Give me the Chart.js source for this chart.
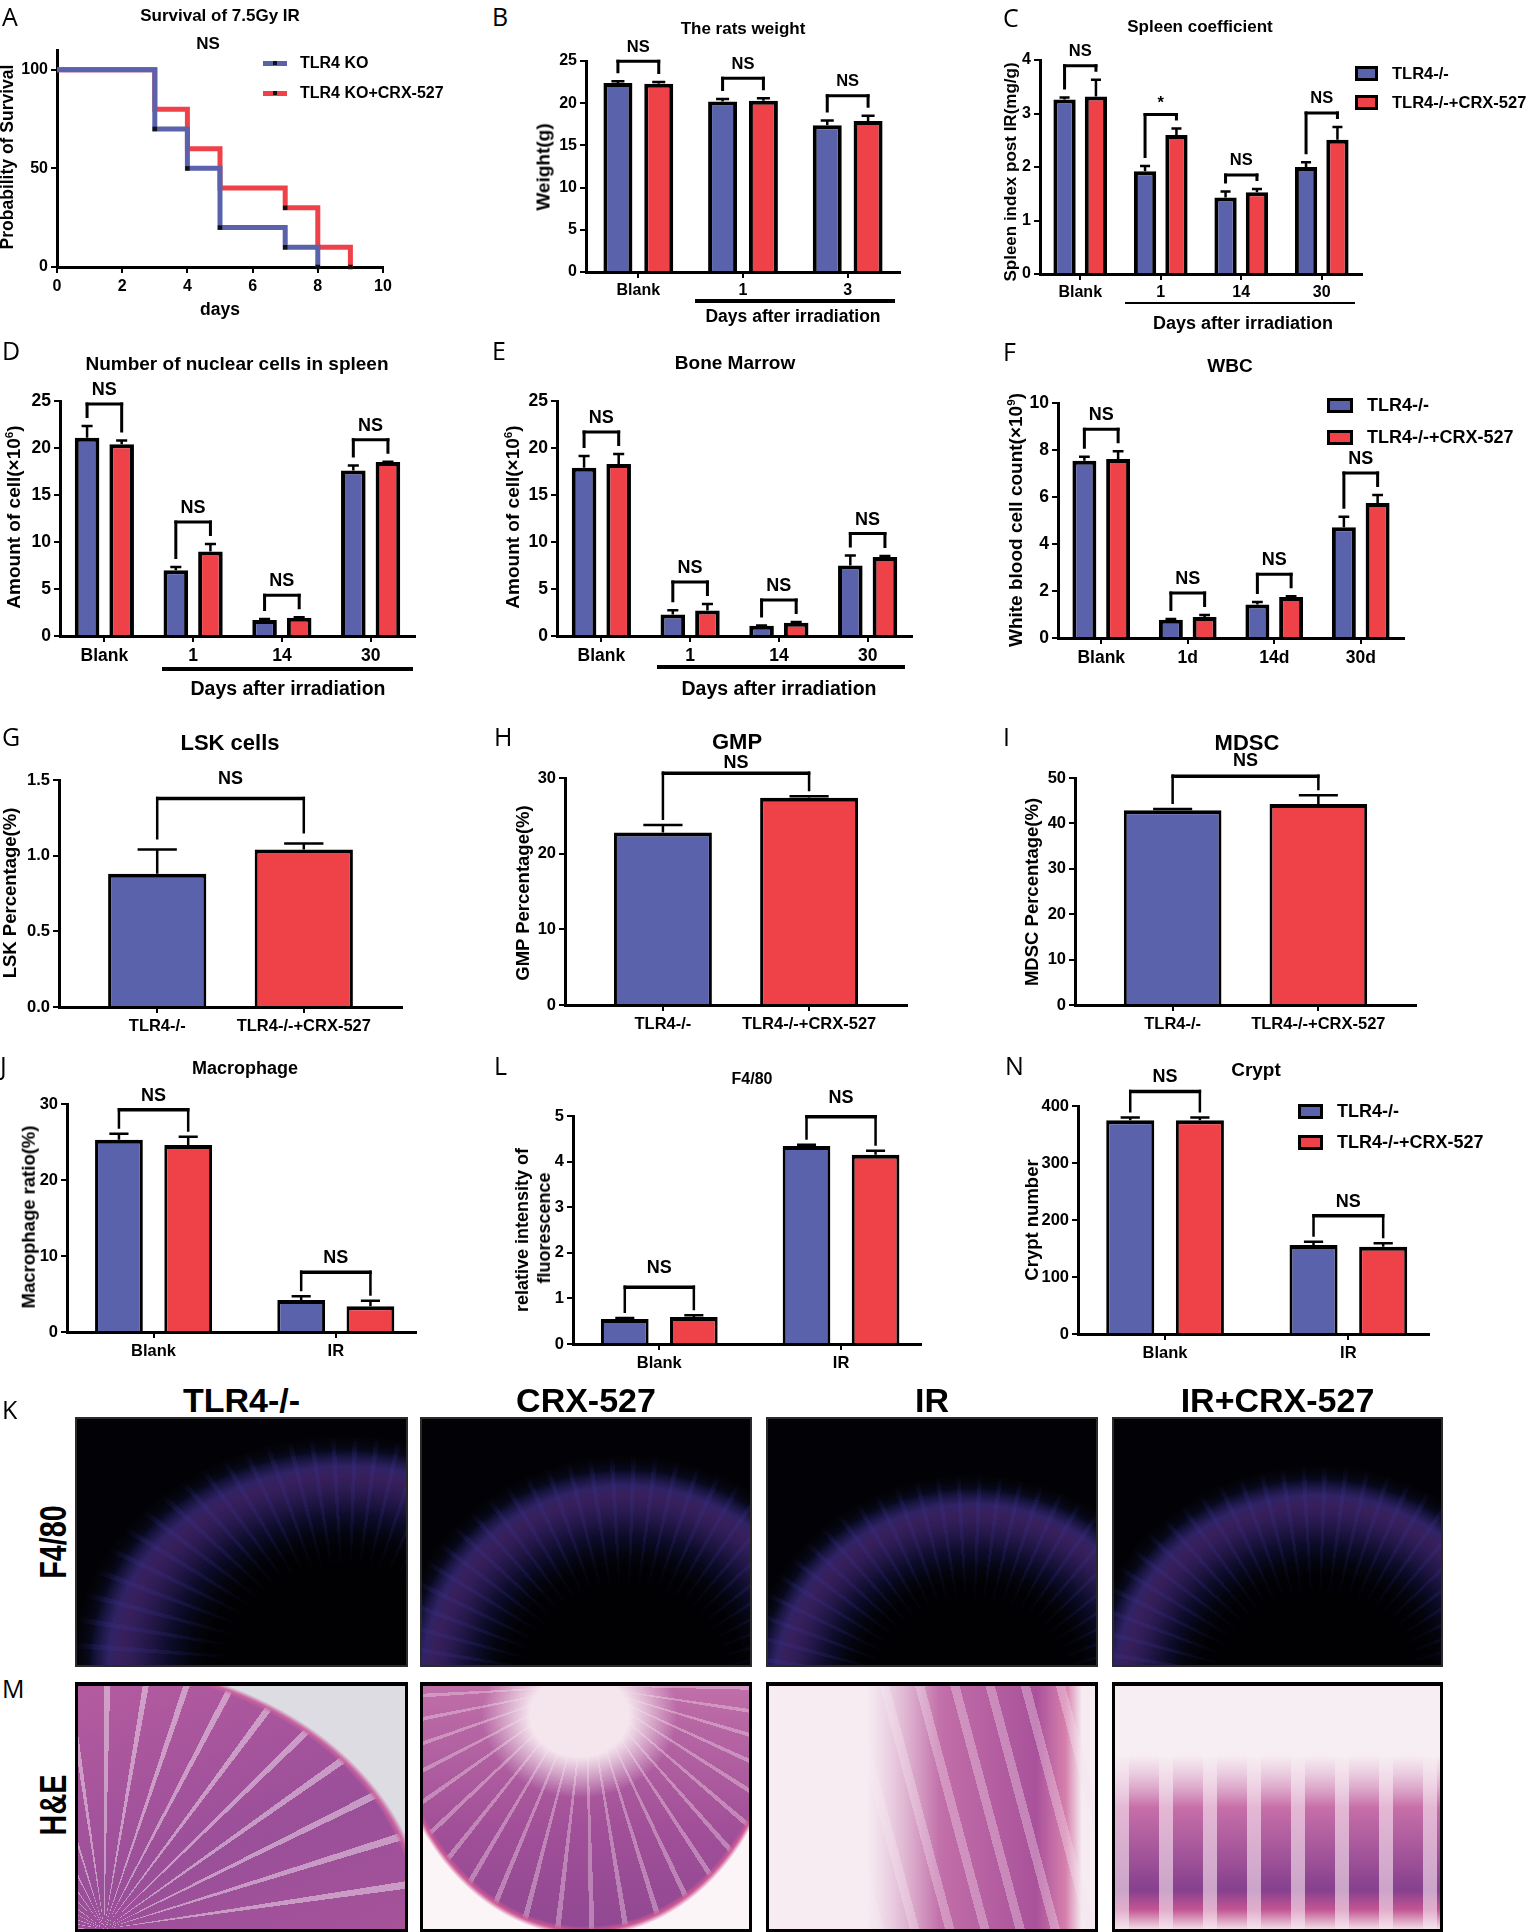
<!DOCTYPE html>
<html>
<head>
<meta charset="utf-8">
<title>TLR4 KO / CRX-527 figure</title>
<script src="https://cdn.jsdelivr.net/npm/chart.js@4.4.1/dist/chart.umd.min.js"></script>
<style>
  body { margin: 0; background: #fff; }
  #fig { position: relative; width: 1535px; height: 1932px; overflow: hidden;
         font-family: "Liberation Sans", Arial, sans-serif; color: #000; }
  #fig canvas { position: absolute; }
  .t { position: absolute; white-space: nowrap; font-weight: bold; line-height: 1; transform: translate(-50%, -50%); }
  .l { position: absolute; white-space: nowrap; font-weight: bold; line-height: 1; transform: translate(0, -50%); }
  .v { position: absolute; white-space: nowrap; font-weight: bold; line-height: 1; transform: translate(-50%, -50%) rotate(-90deg); }
  .letter { position: absolute; font-family: "Open Sans", sans-serif; font-size: 25px; line-height: 1; transform: translateY(-50%); }
  .rule { position: absolute; background: #000; }
  .pic { position: absolute; box-sizing: border-box; }
  .key { position: absolute; box-sizing: border-box; border: 3px solid #000; }
  sup { font-size: 0.62em; vertical-align: 0.55em; line-height: 0; }
</style>
</head>
<body>
<div id="fig"></div>
<script>
// ---------- data ----------
const groups = ['TLR4-/-', 'TLR4-/-+CRX-527'];
const survGroups = ['TLR4 KO', 'TLR4 KO+CRX-527'];

// A: survival of 7.5Gy IR
const survKoDays = [0, 3, 4, 5, 7, 8];
const survKo = [100, 70, 50, 20, 10, 0];
const survKoMark = [0, 1, 1, 1, 1, 1];
const survCrxDays = [0, 3, 4, 5, 7, 8, 9];
const survCrx = [100, 80, 60, 40, 30, 10, 0];
const survCrxMark = [0, 0, 0, 0, 1, 1, 1];
const survXTicks = [0, 2, 4, 6, 8, 10];
const survYTicks = [0, 50, 100];

// B: rats weight
const weightDays = ['Blank', '1', '3'];
const weightKo = [22.4, 20.2, 17.4];
const weightKoErr = [0.2, 0.3, 0.55];
const weightCrx = [22.3, 20.3, 17.9];
const weightCrxErr = [0.2, 0.3, 0.6];
const weightTicks = [0, 5, 10, 15, 20, 25];
const weightSig = ['NS', 'NS', 'NS'];

// C: spleen coefficient
const spleenDays = ['Blank', '1', '14', '30'];
const spleenKo = [3.26, 1.92, 1.43, 2.00];
const spleenKoErr = [0.04, 0.10, 0.11, 0.09];
const spleenCrx = [3.32, 2.60, 1.53, 2.51];
const spleenCrxErr = [0.31, 0.12, 0.06, 0.24];
const spleenTicks = [0, 1, 2, 3, 4];
const spleenSig = ['NS', '*', 'NS', 'NS'];

// D: nuclear cells in spleen
const cellDays = ['Blank', '1', '14', '30'];
const nucKo = [21.1, 7.0, 1.7, 17.6];
const nucKoErr = [1.25, 0.35, 0.1, 0.55];
const nucCrx = [20.4, 9.0, 1.95, 18.5];
const nucCrxErr = [0.4, 0.8, 0.05, 0.05];
const cellTicks = [0, 5, 10, 15, 20, 25];
const nucSig = ['NS', 'NS', 'NS', 'NS'];

// E: bone marrow
const bmKo = [17.9, 2.3, 1.1, 7.5];
const bmKoErr = [1.25, 0.43, 0.03, 1.06];
const bmCrx = [18.3, 2.7, 1.4, 8.4];
const bmCrxErr = [1.05, 0.7, 0.08, 0.1];
const bmSig = ['NS', 'NS', 'NS', 'NS'];

// F: WBC
const wbcDays = ['Blank', '1d', '14d', '30d'];
const wbcKo = [7.54, 0.78, 1.43, 4.71];
const wbcKoErr = [0.17, 0.03, 0.1, 0.45];
const wbcCrx = [7.62, 0.89, 1.74, 5.74];
const wbcCrxErr = [0.33, 0.09, 0.04, 0.34];
const wbcTicks = [0, 2, 4, 6, 8, 10];
const wbcSig = ['NS', 'NS', 'NS', 'NS'];

// G, H, I
const lsk = [0.88, 1.04];
const lskErr = [0.16, 0.04];
const lskTicks = [0, 0.5, 1.0, 1.5];
const gmp = [22.8, 27.4];
const gmpErr = [1.0, 0.2];
const gmpTicks = [0, 10, 20, 30];
const mdsc = [42.9, 44.3];
const mdscErr = [0.25, 1.9];
const mdscTicks = [0, 10, 20, 30, 40, 50];
const oneSig = ['NS'];

// J, L, N
const treat = ['Blank', 'IR'];
const macKo = [25.3, 4.2];
const macKoErr = [0.8, 0.5];
const macCrx = [24.6, 3.4];
const macCrxErr = [1.1, 0.7];
const macTicks = [0, 10, 20, 30];
const f480Ko = [0.55, 4.34];
const f480KoErr = [0.02, 0.03];
const f480Crx = [0.59, 4.15];
const f480CrxErr = [0.04, 0.09];
const f480Ticks = [0, 1, 2, 3, 4, 5];
const cryptKo = [375, 156];
const cryptKoErr = [5, 6];
const cryptCrx = [375, 153];
const cryptCrxErr = [5, 6];
const cryptTicks = [0, 100, 200, 300, 400];
const twoSig = ['NS', 'NS'];

// K, M section columns
const sectionCols = ['TLR4-/-', 'CRX-527', 'IR', 'IR+CRX-527'];

// ---------- helpers ----------
const FONT = '"Liberation Sans", Arial, sans-serif';
const BLUE = '#5962ab';
const RED = '#ef4248';
const fig = document.getElementById('fig');

function el(cls, html, x, y, size, extra) {
  const d = document.createElement('div');
  d.className = cls;
  d.innerHTML = html;
  d.style.left = x + 'px';
  d.style.top = y + 'px';
  if (size) d.style.fontSize = size + 'px';
  if (extra) Object.assign(d.style, extra);
  fig.appendChild(d);
  return d;
}
const txt = (s, x, y, size, extra) => el('t', s, x, y, size, extra);
const vtxt = (s, x, y, size, extra) => el('v', s, x, y, size, extra);
const letter = (s, x, y) => el('letter', s, x, y);
function rule(x1, x2, y, th) {
  el('rule', '', x1, y - th / 2, 0, { width: (x2 - x1) + 'px', height: th + 'px' });
}
function keyBox(x, y, w, h, color) {
  el('key', '', x, y - h / 2, 0, { width: w + 'px', height: h + 'px', background: color });
}

// canvas sized so the chart area lands on the given box
function frame(b) {
  const L = Math.min(60, Math.floor(b.x0)), T = 50, R = 30, B = 45;
  const left = Math.round(b.x0 - L), top = Math.round(b.y1 - T);
  const w = Math.round(b.x1 - b.x0) + L + R, h = Math.round(b.y0 - b.y1) + T + B;
  const c = document.createElement('canvas');
  c.width = w; c.height = h;
  Object.assign(c.style, { left: left + 'px', top: top + 'px', width: w + 'px', height: h + 'px' });
  fig.appendChild(c);
  return { c, L, T, R, B };
}

const GRID = { drawOnChartArea: false, drawTicks: true, tickLength: 6, tickWidth: 2,
               tickColor: '#000', color: '#000', lineWidth: 2, offset: false };
const BORDER = { display: true, color: '#000', width: 3 };
const tickFont = (fs, pad) => ({ color: '#000', font: { family: FONT, size: fs, weight: 'bold' },
                                 padding: pad, maxRotation: 0, autoSkip: false });

// error bars + significance brackets
function annot(a) {
  return {
    id: 'annot',
    afterDatasetsDraw(chart) {
      const ctx = chart.ctx, ys = chart.scales.y;
      ctx.save();
      ctx.strokeStyle = '#000';
      ctx.fillStyle = '#000';
      ctx.lineCap = 'butt';
      const tops = chart.data.datasets.map((ds, i) => {
        const bars = chart.getDatasetMeta(i).data;
        return bars.map((bar, j) => {
          const d = ds.data[j];
          const v = typeof d === 'object' ? d.y : d;
          const yT = ys.getPixelForValue(v + a.err[i][j]);
          const hw = bar.width * a.cap / 2;
          ctx.lineWidth = a.errLw;
          ctx.beginPath();
          ctx.moveTo(bar.x, bar.y);
          ctx.lineTo(bar.x, yT);
          ctx.moveTo(bar.x - hw, yT);
          ctx.lineTo(bar.x + hw, yT);
          ctx.stroke();
          return { x: bar.x, y: yT };
        });
      });
      const pairs = tops.length > 1 ? tops[0].map((p, j) => [p, tops[1][j]]) : [[tops[0][0], tops[0][1]]];
      ctx.font = 'bold ' + a.fs + 'px ' + FONT;
      ctx.textAlign = 'center';
      ctx.textBaseline = 'middle';
      pairs.forEach(([p, q], j) => {
        const by = Math.min(p.y, q.y) - a.gap;
        ctx.lineWidth = a.lw;
        ctx.beginPath();
        ctx.moveTo(p.x, p.y - a.legGap);
        ctx.lineTo(p.x, by - a.topLw / 2);
        ctx.moveTo(q.x, q.y - a.legGap);
        ctx.lineTo(q.x, by - a.topLw / 2);
        ctx.stroke();
        ctx.lineWidth = a.topLw;
        ctx.beginPath();
        ctx.moveTo(p.x - a.lw / 2, by);
        ctx.lineTo(q.x + a.lw / 2, by);
        ctx.stroke();
        const s = a.sig[j];
        ctx.fillText(s, (p.x + q.x) / 2, by - a.nsGap + (s === '*' ? 3 : 0));
      });
      ctx.restore();
    }
  };
}

// styles for the two figure families
const TOP = { bw: 4, cat: 0.78, bar: 0.71, tickFs: 16, xPad: 3, lw: 3, topLw: 3, errLw: 2.5,
              cap: 0.45, legGap: 8, nsGap: 14, fs: 16.5 };
const MID = Object.assign({}, TOP, { tickFs: 17.5, xPad: 4, fs: 18 });
const LOW = { bw: { top: 4, left: 3, right: 3, bottom: 0 }, cat: 0.76, bar: 0.69, tickFs: 16.5, xPad: 4,
              lw: 2.5, topLw: 3.5, errLw: 2.5, cap: 0.4, legGap: 5, nsGap: 13, fs: 18 };

function barChart(p) {
  const st = Object.assign({}, p.style, p.over || {});
  const f = frame(p.box);
  const lin = !!p.xr;
  const datasets = p.series.map(s => ({
    label: s.name,
    data: lin ? s.vals.map((v, i) => ({ x: i + 1, y: v })) : s.vals,
    backgroundColor: s.color,
    borderColor: '#000',
    borderWidth: st.bw,
    categoryPercentage: st.cat,
    barPercentage: st.bar
  }));
  const xt = tickFont(st.tickFs, st.xPad);
  const x = { grid: GRID, border: BORDER, ticks: xt, afterFit: s => { s.height = f.B; } };
  if (lin) {
    Object.assign(x, { type: 'linear', min: p.xr[0], max: p.xr[1], offset: false,
      afterBuildTicks: s => { s.ticks = p.cats.map((c, i) => ({ value: i + 1 })); } });
    xt.callback = (v, i) => p.cats[i];
  } else {
    Object.assign(x, { type: 'category', offset: true });
  }
  const yt = tickFont(st.tickFs, 3);
  yt.callback = p.fmt || (v => String(v));
  const y = { type: 'linear', min: 0, max: p.yTicks[p.yTicks.length - 1],
    grid: GRID, border: BORDER, ticks: yt,
    afterBuildTicks: s => { s.ticks = p.yTicks.map(v => ({ value: v })); },
    afterFit: s => { s.width = f.L; } };
  const data = { datasets };
  if (!lin) data.labels = p.cats;
  new Chart(f.c, {
    type: 'bar',
    data,
    options: {
      responsive: false, animation: false,
      layout: { padding: { left: 0, top: f.T, right: f.R, bottom: 0 } },
      plugins: { legend: { display: false }, tooltip: { enabled: false } },
      scales: { x, y }
    },
    plugins: [annot(Object.assign({ err: p.series.map(s => s.err), sig: p.sig }, st))]
  });
}

const pair = (ko, koErr, crx, crxErr) => [
  { name: groups[0], vals: ko, err: koErr, color: BLUE },
  { name: groups[1], vals: crx, err: crxErr, color: RED }
];
const single = (vals, err) => [{ name: 'group', vals, err, color: [BLUE, RED] }];

// ---------- A: survival ----------
(function () {
  const f = frame({ x0: 57, x1: 383, y1: 49.6, y0: 266.7 });
  const line = (name, days, vals, marks, color) => ({
    label: name,
    data: days.map((d, i) => ({ x: d, y: vals[i] })),
    borderColor: color, borderWidth: 5, stepped: 'before', fill: false,
    borderJoinStyle: 'miter', borderCapStyle: 'butt', clip: false,
    pointStyle: 'rect', pointRadius: marks.map(m => m ? 3.2 : 0),
    pointBackgroundColor: '#111', pointBorderWidth: 0
  });
  const xt = tickFont(16, 4);
  const yt = tickFont(16, 3);
  new Chart(f.c, {
    type: 'line',
    data: { datasets: [
      line(survGroups[0], survKoDays, survKo, survKoMark, BLUE),
      line(survGroups[1], survCrxDays, survCrx, survCrxMark, RED)
    ] },
    options: {
      responsive: false, animation: false,
      layout: { padding: { left: 0, top: f.T, right: f.R, bottom: 0 } },
      plugins: { legend: { display: false }, tooltip: { enabled: false } },
      scales: {
        x: { type: 'linear', min: 0, max: 10, grid: GRID, border: BORDER, ticks: xt,
             afterBuildTicks: s => { s.ticks = survXTicks.map(v => ({ value: v })); },
             afterFit: s => { s.height = f.B; } },
        y: { type: 'linear', min: 0, max: 110, grid: GRID, border: BORDER, ticks: yt,
             afterBuildTicks: s => { s.ticks = survYTicks.map(v => ({ value: v })); },
             afterFit: s => { s.width = f.L; } }
      }
    }
  });
})();

// ---------- B .. F ----------
barChart({ box: { x0: 586, x1: 900, y1: 61, y0: 272 }, cats: weightDays, yTicks: weightTicks,
  series: pair(weightKo, weightKoErr, weightCrx, weightCrxErr), sig: weightSig, style: TOP, over: { gap: 20 } });
barChart({ box: { x0: 1040, x1: 1362, y1: 60, y0: 274 }, cats: spleenDays, yTicks: spleenTicks,
  series: pair(spleenKo, spleenKoErr, spleenCrx, spleenCrxErr), sig: spleenSig, style: TOP, over: { gap: 14 } });
barChart({ box: { x0: 60, x1: 415, y1: 401, y0: 636 }, cats: cellDays, yTicks: cellTicks,
  series: pair(nucKo, nucKoErr, nucCrx, nucCrxErr), sig: nucSig, style: MID, over: { gap: 22 } });
barChart({ box: { x0: 557, x1: 912, y1: 401, y0: 636 }, cats: cellDays, yTicks: cellTicks,
  series: pair(bmKo, bmKoErr, bmCrx, bmCrxErr), sig: bmSig, style: MID, over: { gap: 22 } });
barChart({ box: { x0: 1058, x1: 1404, y1: 403, y0: 638 }, cats: wbcDays, yTicks: wbcTicks,
  series: pair(wbcKo, wbcKoErr, wbcCrx, wbcCrxErr), sig: wbcSig, style: MID, over: { gap: 22 } });

// ---------- G, H, I ----------
const ROW3 = Object.assign({}, LOW, { cat: 0.67, bar: 1 });
barChart({ box: { x0: 59, x1: 402, y1: 780, y0: 1007 }, xr: [0.33, 2.67], cats: groups, yTicks: lskTicks,
  fmt: v => v.toFixed(1), series: single(lsk, lskErr), sig: oneSig, style: ROW3,
  over: { gap: 45, legGap: 10, nsGap: 20 } });
barChart({ box: { x0: 565, x1: 907, y1: 778, y0: 1005 }, xr: [0.33, 2.67], cats: groups, yTicks: gmpTicks,
  series: single(gmp, gmpErr), sig: oneSig, style: ROW3, over: { gap: 23, nsGap: 10 } });
barChart({ box: { x0: 1075, x1: 1416, y1: 778, y0: 1005 }, xr: [0.33, 2.67], cats: groups, yTicks: mdscTicks,
  series: single(mdsc, mdscErr), sig: oneSig, style: ROW3, over: { gap: 19, nsGap: 15 } });

// ---------- J, L, N ----------
barChart({ box: { x0: 67, x1: 416, y1: 1104, y0: 1332 }, xr: [0.525, 2.44], cats: treat, yTicks: macTicks,
  series: pair(macKo, macKoErr, macCrx, macCrxErr), sig: twoSig, style: LOW, over: { gap: 24, nsGap: 14 } });
barChart({ box: { x0: 573, x1: 921, y1: 1116, y0: 1344 }, xr: [0.525, 2.44], cats: treat, yTicks: f480Ticks,
  series: pair(f480Ko, f480KoErr, f480Crx, f480CrxErr), sig: twoSig, style: LOW, over: { gap: 28, nsGap: 19 } });
barChart({ box: { x0: 1078, x1: 1429, y1: 1106, y0: 1334 }, xr: [0.525, 2.44], cats: treat, yTicks: cryptTicks,
  series: pair(cryptKo, cryptKoErr, cryptCrx, cryptCrxErr), sig: twoSig, style: LOW, over: { gap: 26, nsGap: 14 } });

// ---------- text, legends, rules ----------
letter('A', 2, 16); letter('B', 492, 16); letter('C', 1003, 17);
letter('D', 2, 350); letter('E', 492, 350); letter('F', 1003, 351);
letter('G', 2, 736); letter('H', 494, 736); letter('I', 1003, 736);
letter('J', 0, 1065); letter('L', 494, 1065); letter('N', 1005, 1065);
letter('K', 2, 1409); letter('M', 2, 1688);

// A
txt('Survival of 7.5Gy IR', 220, 15, 17);
txt('NS', 208, 43, 17);
vtxt('Probability of Survival', 8, 157, 17.5);
txt('days', 220, 310, 17.5);
[BLUE, RED].forEach((c, i) => {
  const y = [63, 93][i];
  el('rule', '', 263, y - 2.5, 0, { width: '24px', height: '5px', background: c });
  el('rule', '', 273, y - 2, 0, { width: '4px', height: '4px', background: '#111' });
  el('l', survGroups[i], 300, y, 16);
});

// B
txt('The rats weight', 743, 28, 17);
vtxt('Weight(g)', 543, 167, 19);
rule(695, 895, 301, 3.5);
txt('Days after irradiation', 793, 317, 17.5);

// C
txt('Spleen coefficient', 1200, 26, 17);
vtxt('Spleen index post IR(mg/g)', 1010, 172, 17);
rule(1125, 1355, 303, 2.5);
txt('Days after irradiation', 1243, 323, 18);
[BLUE, RED].forEach((c, i) => {
  const y = [73, 102][i];
  keyBox(1355, y, 23, 15, c);
  el('l', groups[i], 1392, y, 16.5);
});

// D, E
txt('Number of nuclear cells in spleen', 237, 363, 19);
vtxt('Amount of cell(×10<sup>6</sup>)', 13, 517, 19);
rule(162, 413, 669, 3.5);
txt('Days after irradiation', 288, 689, 19.5);
txt('Bone Marrow', 735, 362, 19);
vtxt('Amount of cell(×10<sup>6</sup>)', 512, 517, 19);
rule(657, 905, 667, 3.5);
txt('Days after irradiation', 779, 689, 19.5);

// F
txt('WBC', 1230, 365, 19);
vtxt('White blood cell count(×10<sup>9</sup>)', 1015, 520, 19);
[BLUE, RED].forEach((c, i) => {
  const y = [405, 437][i];
  keyBox(1327, y, 26, 15, c);
  el('l', groups[i], 1367, y, 18);
});

// G, H, I
txt('LSK cells', 230, 743, 22);
vtxt('LSK Percentage(%)', 10, 893, 18.5);
txt('GMP', 737, 742, 22);
vtxt('GMP Percentage(%)', 523, 893, 18.5);
txt('MDSC', 1247, 743, 22);
vtxt('MDSC Percentage(%)', 1032, 892, 18.5);

// J, L, N
txt('Macrophage', 245, 1068, 18);
vtxt('Macrophage ratio(%)', 29, 1217, 18.5);
txt('F4/80', 752, 1079, 16);
vtxt('relative intensity of', 522, 1230, 18);
vtxt('fluorescence', 544, 1228, 18);
txt('Crypt', 1256, 1069, 19);
vtxt('Crypt number', 1032, 1220, 18.5);
[BLUE, RED].forEach((c, i) => {
  const y = [1111, 1142][i];
  keyBox(1298, y, 25, 15, c);
  el('l', groups[i], 1337, y, 18);
});

// ---------- K, M: section photographs (drawn as shaded panels) ----------
const colX = [[75, 408], [420, 752], [766, 1098], [1112, 1443]];
const colCenters = colX.map(c => (c[0] + c[1]) / 2);
sectionCols.forEach((s, i) => txt(s, colCenters[i], 1400, 34));
vtxt('F4/80', 54, 1542, 36, { transform: 'translate(-50%,-50%) rotate(-90deg) scaleX(0.8)' });
vtxt('H&amp;E', 54, 1805, 36, { transform: 'translate(-50%,-50%) rotate(-90deg) scaleX(0.8)' });

const fluoCenters = ['82% 100%', '62% 108%', '62% 112%', '62% 110%'];
const fluoArc = ['86% 96%', '74% 96%', '72% 92%', '74% 94%'];
colX.forEach((c, i) => {
  const at = fluoCenters[i], sz = fluoArc[i];
  el('pic', '', c[0], 1417, 0, {
    width: (c[1] - c[0]) + 'px', height: '250px', border: '2px solid #2a2a2a',
    background: [
      `radial-gradient(ellipse ${sz} at ${at}, rgba(2,2,6,0) 0 90%, #020206 97%)`,
      `radial-gradient(ellipse ${sz} at ${at}, #010104 0 42%, rgba(1,1,4,0) 62%)`,
      `repeating-conic-gradient(from 180deg at ${at}, rgba(60,60,170,0.16) 0 1.2deg, rgba(0,0,0,0) 1.2deg 5.5deg)`,
      `radial-gradient(ellipse ${sz} at ${at}, rgba(0,0,0,0) 62%, rgba(120,28,70,0.28) 80%, rgba(0,0,0,0) 90%)`,
      `radial-gradient(ellipse ${sz} at ${at}, #020207 0 50%, #0c0c2c 64%, #1c1d5c 76%, #23246c 84%, #0a0a22 91%, #030308 100%)`
    ].join(',')
  });
});

const heBg = [
  ['radial-gradient(ellipse 108% 112% at 0% 100%, rgba(0,0,0,0) 96%, #c9649f 97.5%, #dddce3 99%)',
   'repeating-conic-gradient(from 0deg at 8% 100%, rgba(240,228,240,0.5) 0 1.4deg, rgba(0,0,0,0) 1.4deg 9deg)',
   'linear-gradient(160deg, #b45ba0, #9a4f99 60%, #a65399)'],
  ['radial-gradient(ellipse 62% 104% at 50% 0%, rgba(0,0,0,0) 95%, #cf5a96 97%, #fbf5f8 99%)',
   'radial-gradient(ellipse 30% 34% at 48% 12%, #f5e6ee 0 50%, rgba(245,230,238,0) 100%)',
   'repeating-conic-gradient(from 90deg at 50% 0%, rgba(240,215,230,0.4) 0 1.3deg, rgba(0,0,0,0) 1.3deg 8deg)',
   'linear-gradient(180deg, #c06fa9, #a04f98 60%, #914892)'],
  ['linear-gradient(90deg, #f6ecf2 0 30%, rgba(246,236,242,0) 52%)',
   'repeating-linear-gradient(75deg, rgba(245,225,238,0.35) 0 9px, rgba(0,0,0,0) 9px 34px)',
   'linear-gradient(90deg, #efdde8, #c06ca7 55%, #a9529b 82%, #d680ad 91%, #f6ebf1 96%)'],
  ['linear-gradient(180deg, #f7eef3 0 28%, rgba(247,238,243,0) 50%)',
   'repeating-linear-gradient(90deg, rgba(248,232,241,0.6) 0 14px, rgba(0,0,0,0) 14px 44px)',
   'linear-gradient(180deg, #f1dfe9, #c76fa9 50%, #86408e 84%, #c35593 92%, #f1dde7 100%)']
];
colX.forEach((c, i) => {
  el('pic', '', c[0], 1682, 0, {
    width: (c[1] - c[0]) + 'px', height: '250px', border: '3px solid #000', borderTopWidth: '4px',
    background: heBg[i].join(',')
  });
});
</script>
</body>
</html>
